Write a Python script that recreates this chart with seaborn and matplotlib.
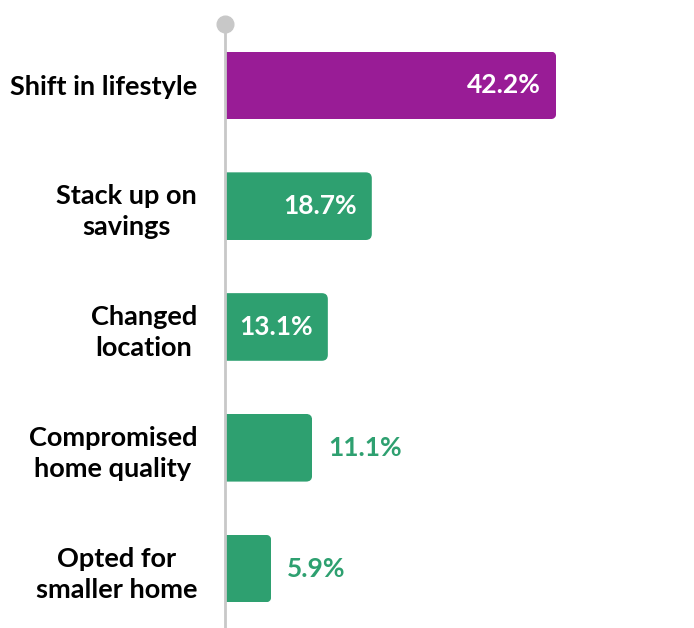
import matplotlib
matplotlib.use("Agg")
import matplotlib.pyplot as plt
import seaborn as sns
import pandas as pd
from matplotlib.patches import FancyBboxPatch

categories = ["Shift in lifestyle", "Stack up on\nsavings", "Changed\nlocation",
              "Compromised\nhome quality", "Opted for\nsmaller home"]
values = [42.2, 18.7, 13.1, 11.1, 5.9]
value_labels = ["42.2%", "18.7%", "13.1%", "11.1%", "5.9%"]
inside = [True, True, True, False, False]

PURPLE = "#991C96"
GREEN = "#2EA070"
GREY = "#C8C8C8"
colors = [PURPLE, GREEN, GREEN, GREEN, GREEN]

sns.set_theme(style="white")
plt.rcParams["font.family"] = ["Lato", "DejaVu Sans"]

df = pd.DataFrame({"cat": categories, "val": values})

fig = plt.figure(figsize=(6.94, 6.28), dpi=100)
W, H = 694, 628
ax_left, ax_top, ax_bottom = 225, 24, 628
ax = fig.add_axes([ax_left / W, 0, (W - ax_left) / W, (ax_bottom - ax_top) / H])

sns.barplot(data=df, x="val", y="cat", hue="cat", palette=colors, legend=False,
            orient="h", width=0.56, ax=ax, saturation=1)

px_per_unit = 7.85
ax.set_xlim(0, (W - ax_left) / px_per_unit)
ax.set_ylim(4.492, -0.508)

# rounded right corners
row_px = (ax_bottom - ax_top) / 5.0
aspect = px_per_unit / row_px
r_px = 6
for p in ax.patches:
    x0, y0 = p.get_x(), p.get_y()
    w, h = p.get_width(), p.get_height()
    r = r_px / px_per_unit
    clip = FancyBboxPatch((x0 - 2 * r, y0), w + 2 * r, h,
                          boxstyle=f"round,pad=0,rounding_size={r}",
                          mutation_aspect=aspect, transform=ax.transData,
                          facecolor="none", edgecolor="none")
    ax.add_patch(clip)
    clip.set_visible(False)
    p.set_clip_path(clip)
    p.set_edgecolor("none")

for i, (v, lab, ins) in enumerate(zip(values, value_labels, inside)):
    if ins:
        ax.text(v - 15 / px_per_unit, i, lab, ha="right", va="center",
                color="white", fontsize=19, fontweight="bold")
    else:
        ax.text(v + 16 / px_per_unit, i, lab, ha="left", va="center",
                color=GREEN, fontsize=19, fontweight="bold")

ax.set_xlabel("")
ax.set_ylabel("")
ax.set_xticks([])
for s in ["top", "right", "bottom"]:
    ax.spines[s].set_visible(False)
ax.spines["left"].set_color(GREY)
ax.spines["left"].set_linewidth(2)
ax.tick_params(axis="y", length=0, pad=20)
for t in ax.get_yticklabels():
    t.set_fontsize(19.5)
    t.set_fontweight("bold")
    t.set_color("black")
    t.set_multialignment("center")
    t.set_linespacing(1.35)

# circle at the top of the axis line
ax.plot([0], [-0.508], marker="o", markersize=12, color=GREY, clip_on=False,
        zorder=5)

fig.savefig("out.png", dpi=100)
